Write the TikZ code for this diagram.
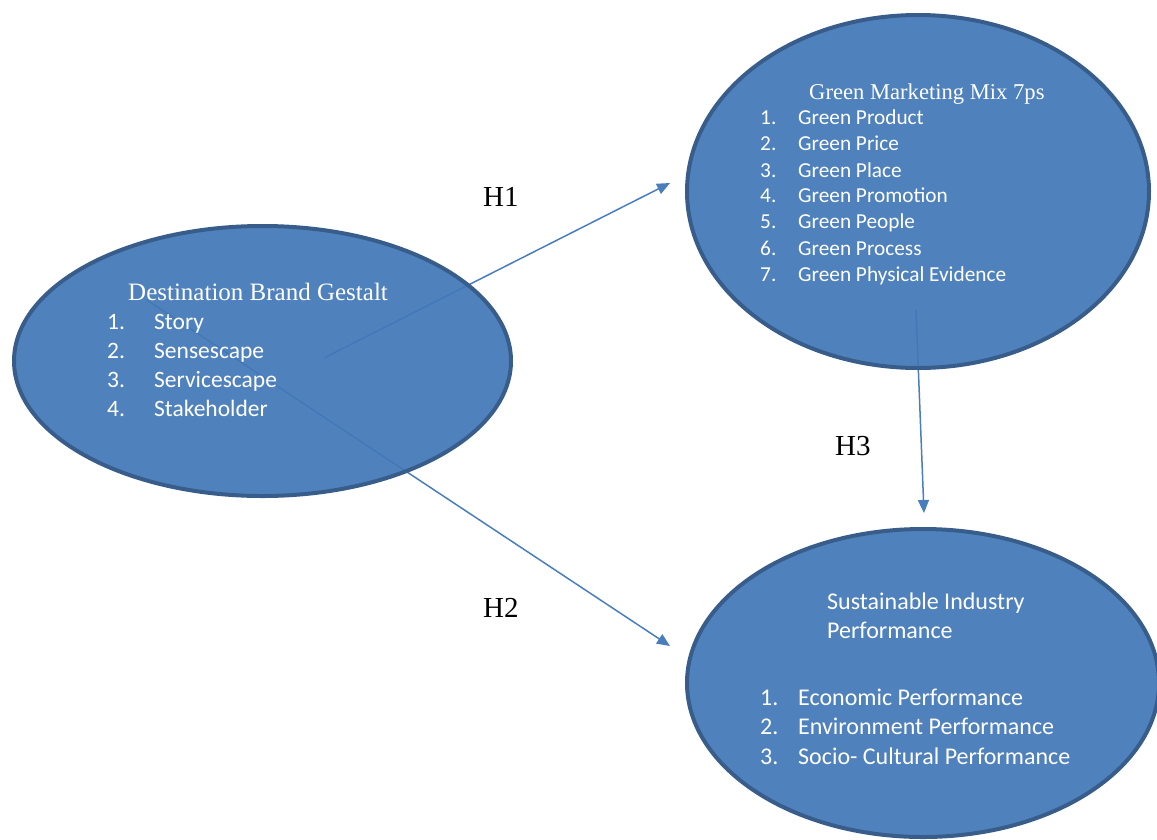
\documentclass[tikz,border=0pt]{standalone}
\usepackage{fontspec}
\setmainfont{Liberation Serif}
\newfontfamily\calib{Carlito}
\usetikzlibrary{shapes.geometric,arrows.meta}
\definecolor{ofill}{HTML}{4278B8}
\definecolor{oline}{HTML}{385D8A}
\definecolor{arrowc}{HTML}{4A7EBB}
\tikzset{
  blob/.style={ellipse, draw=oline, line width=4pt, fill=ofill, fill opacity=0.93, draw opacity=1, inner sep=0pt},
  conn/.style={draw=arrowc, line width=1.5pt, -{Triangle[length=13pt,width=11pt]}},
  ttl/.style={text=white, font=\fontsize{25}{30}\selectfont, anchor=base west, inner sep=0pt},
  ttlB/.style={text=white, font=\fontsize{22.6}{27}\selectfont, anchor=base west, inner sep=0pt},
  itemA/.style={text=white, font=\calib\fontsize{23.5}{28}\selectfont, anchor=base west, inner sep=0pt},
  itemC/.style={text=white, font=\calib\fontsize{24}{29}\selectfont, anchor=base west, inner sep=0pt},
  itemB/.style={text=white, font=\calib\fontsize{21.3}{25}\selectfont, anchor=base west, inner sep=0pt},
  hlab/.style={text=black, font=\fontsize{29}{34}\selectfont, anchor=base west, inner sep=0pt}
}
\begin{document}
\begin{tikzpicture}[x=1pt,y=-1pt]
\useasboundingbox (0,0) rectangle (1157,839);
\clip (0,0) rectangle (1157,839);
% connector end points
\coordinate (h1s) at (324,358);
\coordinate (h1e) at (670,183);
\coordinate (h2s) at (147,300);
\coordinate (h2e) at (670,646);
\coordinate (h3s) at (916,310);
\coordinate (h3e) at (924,513);
% connectors (drawn beneath the ellipses)
\draw[conn] (h1s) -- (h1e);
\draw[conn] (h2s) -- (h2e);
\draw[conn] (h3s) -- (h3e);
% ellipses
\node[blob, minimum width=497pt, minimum height=270pt] (dbg) at (262.5,361) {};
\node[blob, minimum width=462pt, minimum height=353pt] (gmm) at (918,191.5) {};
\node[blob, minimum width=472pt, minimum height=308pt] (sip) at (923,683) {};
% left texts
\node[ttl] (dbgt) at (128,300) {Destination Brand Gestalt};
\foreach \n/\t/\y in {1/Story/329,2/Sensescape/358,3/Servicescape/387,4/Stakeholder/416}{
  \node[itemA] (dbgn\n) at (107,\y) {\n.};
  \node[itemA] (dbgi\n) at (154,\y) {\t};
}
% top right texts
\node[ttlB] (gmmt) at (809,99) {Green Marketing Mix 7ps};
\foreach \n/\t/\y in {1/Green Product/124,2/Green Price/150,3/Green Place/177,4/Green Promotion/202,5/Green People/228,6/Green Process/255,7/Green Physical Evidence/281}{
  \node[itemB] (gmmn\n) at (760,\y) {\n.};
  \node[itemB] (gmmi\n) at (798,\y) {\t};
}
% bottom right texts
\node[itemC] (sipt1) at (827,609) {Sustainable Industry};
\node[itemC] (sipt2) at (827,638) {Performance};
\foreach \n/\t/\y in {1/Economic Performance/705,2/Environment Performance/734,3/Socio- Cultural Performance/764}{
  \node[itemC] (sipn\n) at (760,\y) {\n.};
  \node[itemC] (sipi\n) at (798,\y) {\t};
}
% hypothesis labels
\node[hlab] (H1) at (483,206) {H1};
\node[hlab] (H2) at (483,617) {H2};
\node[hlab] (H3) at (835,455) {H3};
\end{tikzpicture}
\end{document}
